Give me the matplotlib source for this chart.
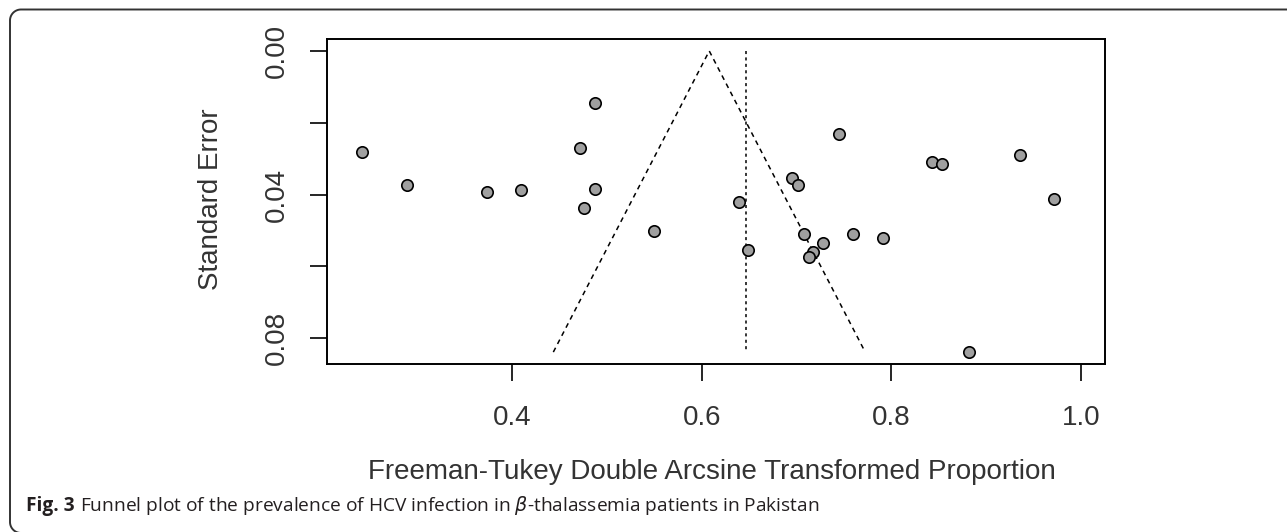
import numpy as np
import matplotlib
matplotlib.use("Agg")
import matplotlib.pyplot as plt
from matplotlib.lines import Line2D

# ---- data ----
effect = [0.242, 0.289, 0.374, 0.409, 0.487, 0.472, 0.487, 0.476, 0.550,
          0.639, 0.649, 0.745, 0.695, 0.702, 0.708, 0.728, 0.717, 0.713,
          0.760, 0.791, 0.843, 0.853, 0.936, 0.971, 0.882]
std_err = [0.0281, 0.0374, 0.0394, 0.0388, 0.0144, 0.0270, 0.0384, 0.0438, 0.0501,
           0.0422, 0.0555, 0.0231, 0.0353, 0.0373, 0.0511, 0.0535, 0.0560, 0.0574,
           0.0511, 0.0520, 0.0309, 0.0314, 0.0290, 0.0413, 0.0839]
fixed_estimate = 0.608
random_estimate = 0.647
se_max = 0.0839
z_crit = 1.96

x_ticks = [0.4, 0.6, 0.8, 1.0]
x_ticklabels = ["0.4", "0.6", "0.8", "1.0"]
y_ticks = [0.00, 0.02, 0.04, 0.06, 0.08]
y_ticklabels = ["0.00", "", "0.04", "", "0.08"]

xlabel = "Freeman-Tukey Double Arcsine Transformed Proportion"
ylabel = "Standard Error"
caption_bold = "Fig. 3"
caption_text = ("Funnel plot of the prevalence of HCV infection in "
                "$\\it{\\beta}$-thalassemia patients in Pakistan")

W, H = 1287, 532
fig = plt.figure(figsize=(W / 100, H / 100), dpi=100)
fig.patch.set_facecolor("white")

ax = fig.add_axes([327 / W, 1 - 364.3 / H, (1105 - 327) / W, (364.3 - 39) / H])
txt_col = "#333333"
sans = ["Liberation Sans", "DejaVu Sans"]
fs = 20

# funnel
se_line = np.array([se_max, 0.0, se_max])
fx = fixed_estimate + np.array([-1, 0, 1]) * z_crit * se_line
ax.plot(fx, se_line, color="black", lw=1.1, linestyle=(0, (3.2, 2.8)))
ax.plot([random_estimate, random_estimate], [0.0, se_max], color="black",
        lw=1.1, linestyle=(0, (2, 2.2)))

ax.plot(effect, std_err, linestyle="none", marker="o", markersize=8.2,
        markerfacecolor="#a0a0a0", markeredgecolor="black", markeredgewidth=1.2)

ax.set_xlim(0.2049, 1.0253)
ax.set_ylim(0.0873, -0.00334)

ax.set_xticks(x_ticks)
ax.set_xticklabels(x_ticklabels, fontsize=fs, color=txt_col, family=sans)
ax.set_yticks(y_ticks)
ax.set_yticklabels(y_ticklabels, fontsize=fs, color=txt_col, family=sans,
                   rotation=90, va="center")
ax.tick_params(axis="x", length=12, width=1.2, pad=17, color="black")
ax.tick_params(axis="y", length=12, width=1.2, pad=15, color="black")
for s in ax.spines.values():
    s.set_linewidth(1.4)
    s.set_color("black")

fig.text(712 / W, 1 - 472 / H, xlabel, ha="center", va="center",
         fontsize=fs, color=txt_col, family=sans)
fig.text(211 / W, 1 - 199 / H, ylabel, ha="center", va="center",
         rotation=90, fontsize=fs, color=txt_col, family=sans)

# caption
cap_font = ["Open Sans", "DejaVu Sans"]
cap_fs = 13.8
t1 = fig.text(26 / W, 1 - 511 / H, caption_bold, ha="left", va="baseline",
              fontsize=cap_fs, fontweight="bold", color="#231f20", family=cap_font)
fig.canvas.draw()
bb = t1.get_window_extent()
fig.text((bb.x1 + 5) / W, 1 - 511 / H, caption_text,
         ha="left", va="baseline", fontsize=cap_fs, color="#231f20", family=cap_font)

# rounded border (open at right and bottom)
r = 11
th = np.linspace(np.pi / 2, np.pi, 20)
top_arc_x = 10 + r + r * np.cos(th)
top_arc_y = 9.5 + r - r * np.sin(th)
th2 = np.linspace(np.pi, 1.5 * np.pi, 20)
bot_arc_x = 10 + r + r * np.cos(th2)
bot_arc_y = 533 - r - r * np.sin(th2)
bx = np.concatenate([[W], top_arc_x, bot_arc_x])
by = np.concatenate([[9.5], top_arc_y, bot_arc_y])
fig.add_artist(Line2D(bx / W, 1 - by / H, transform=fig.transFigure,
                      color="#333333", lw=1.4))

fig.savefig("out.png", dpi=100, facecolor="white")
